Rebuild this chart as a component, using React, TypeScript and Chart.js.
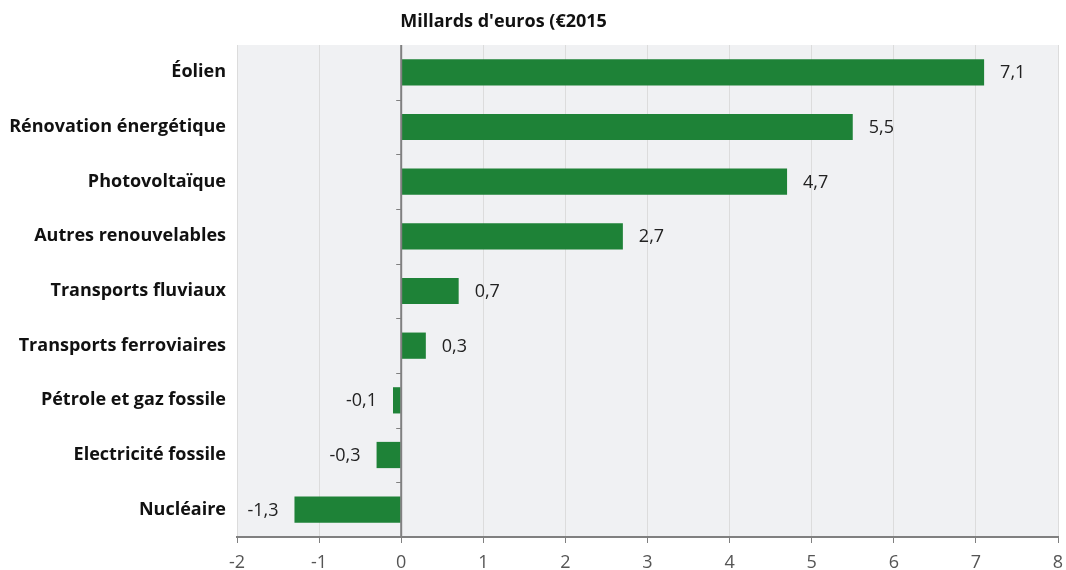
import React, { useEffect, useRef } from "react";
import { Chart, registerables } from "chart.js";

Chart.register(...registerables);

const categories = [
  "Éolien",
  "Rénovation énergétique",
  "Photovoltaïque",
  "Autres renouvelables",
  "Transports fluviaux",
  "Transports ferroviaires",
  "Pétrole et gaz fossile",
  "Electricité fossile",
  "Nucléaire",
];
const values = [7.1, 5.5, 4.7, 2.7, 0.7, 0.3, -0.1, -0.3, -1.3];
const xTicks = [-2, -1, 0, 1, 2, 3, 4, 5, 6, 7, 8];
const titleText = "Millards d'euros (€2015";

const FONT = "'Open Sans', 'Noto Sans', sans-serif";

export default function App() {
  const ref = useRef<HTMLCanvasElement | null>(null);
  useEffect(() => {
    if (!ref.current) return;
    const bgPlugin = {
      id: "bg",
      beforeDraw(chart: any) {
        const { ctx, chartArea } = chart;
        ctx.save();
        ctx.fillStyle = "#f0f1f3";
        ctx.fillRect(chartArea.left, chartArea.top, chartArea.right - chartArea.left, chartArea.bottom - chartArea.top);
        ctx.restore();
      },
      afterDraw(chart: any) {
        const { ctx } = chart;
        const xs = chart.scales.x;
        const ys = chart.scales.y;
        const x0 = xs.getPixelForValue(0);
        ctx.save();
        // zero line
        ctx.strokeStyle = "#808080";
        ctx.lineWidth = 2;
        ctx.beginPath();
        ctx.moveTo(x0, chart.chartArea.top);
        ctx.lineTo(x0, chart.chartArea.bottom);
        ctx.stroke();
        // category tick marks on zero line
        ctx.lineWidth = 1;
        for (let i = 0; i < categories.length - 1; i++) {
          const y = Math.round(ys.getPixelForValue(i + 0.5)) + 0.5;
          ctx.beginPath();
          ctx.moveTo(x0 - 5, y);
          ctx.lineTo(x0, y);
          ctx.stroke();
        }
        // title
        ctx.fillStyle = "#111";
        ctx.font = `bold 18px ${FONT}`;
        ctx.textAlign = "left";
        ctx.textBaseline = "middle";
        ctx.fillText(titleText, x0 - 1, 22);
        // value labels
        ctx.font = `18px ${FONT}`;
        ctx.fillStyle = "#222";
        const meta = chart.getDatasetMeta(0);
        meta.data.forEach((bar: any, i: number) => {
          const v = values[i];
          const txt = v.toFixed(1).replace(".", ",");
          if (v >= 0) {
            ctx.textAlign = "left";
            ctx.fillText(txt, bar.x + 16, bar.y + 1);
          } else {
            ctx.textAlign = "right";
            ctx.fillText(txt, bar.x - 16, bar.y + 1);
          }
        });
        ctx.restore();
      },
    };
    const chart = new Chart(ref.current, {
      type: "bar",
      data: {
        labels: categories,
        datasets: [
          {
            data: values,
            backgroundColor: "#1e8237",
            borderWidth: 0,
            barPercentage: 0.48,
            categoryPercentage: 1,
          },
        ],
      },
      options: {
        indexAxis: "y",
        animation: false,
        responsive: false,
        maintainAspectRatio: false,
        layout: { padding: { top: 45, right: 8, left: 0, bottom: 0 } },
        plugins: { legend: { display: false }, tooltip: { enabled: false }, title: { display: false } },
        scales: {
          x: {
            type: "linear",
            min: -2,
            max: 8,
            afterBuildTicks(scale: any) {
              scale.ticks = xTicks.map((v) => ({ value: v }));
            },
            afterFit(scale: any) {
              scale.height = 33;
              scale.paddingLeft = 0;
              scale.paddingRight = 0;
            },
            grid: {
              color: "#dcdcdc",
              lineWidth: 1,
              drawTicks: true,
              tickLength: 6,
              tickColor: "#808080",
            },
            border: { display: true, color: "#808080", width: 2 },
            ticks: {
              color: "#555",
              font: { family: FONT, size: 18 },
              padding: 9,
              callback: (v: any) => String(v),
            },
          },
          y: {
            type: "category",
            afterFit(scale: any) {
              scale.width = 237;
            },
            grid: { display: false, drawTicks: false },
            border: { display: false },
            ticks: {
              color: "#111",
              padding: 11,
              font: { family: FONT, size: 18, weight: "bold" },
            },
          },
        },
      },
      plugins: [bgPlugin],
    });
    return () => chart.destroy();
  }, []);
  return (
    <div style={{ position: "absolute", left: 0, top: 0, width: 1066, height: 570, background: "#fff" }}>
      <canvas ref={ref} width={1066} height={570} style={{ width: 1066, height: 570 }} />
    </div>
  );
}
